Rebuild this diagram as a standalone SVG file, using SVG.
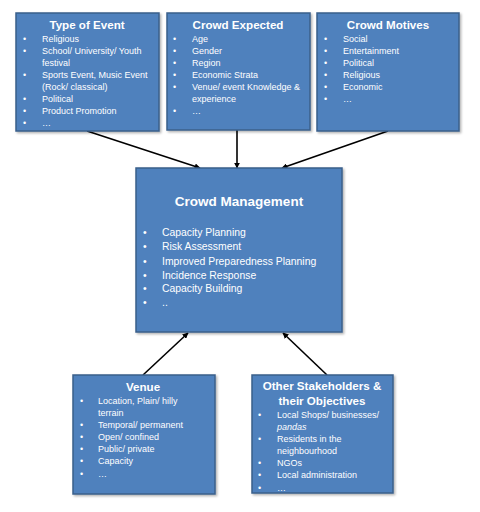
<svg xmlns="http://www.w3.org/2000/svg" width="480" height="512" viewBox="0 0 480 512">
<defs>
<marker id="ah" viewBox="0 0 10 10" refX="9" refY="5" markerWidth="6" markerHeight="6" orient="auto" markerUnits="userSpaceOnUse">
<path d="M0,0 L10,5 L0,10 z" fill="#000"/>
</marker>
<filter id="sh" x="-5%" y="-5%" width="115%" height="115%">
<feDropShadow dx="1.5" dy="1.5" stdDeviation="1" flood-color="#000" flood-opacity="0.3"/>
</filter>
</defs>
<style>
.box{fill:#4F81BD;stroke:#3A5F8B;stroke-width:1.5;filter:url(#sh)}
text{font-family:"Liberation Sans",Arial,sans-serif;fill:#fff}
.t{font-weight:bold;font-size:11.6px;text-anchor:middle}
.tb{font-weight:bold;font-size:13.5px;text-anchor:middle}
.s{font-size:9px}
.m{font-size:10.4px}
.c{stroke:#000;stroke-width:1.6;fill:none;marker-end:url(#ah)}
</style>
<rect width="480" height="512" fill="#fff"/>
<g id="connectors">
<line class="c" x1="87" y1="131" x2="200" y2="168"/>
<line class="c" x1="237" y1="130" x2="237" y2="168"/>
<line class="c" x1="388" y1="131" x2="282" y2="168"/>
<line class="c" x1="143" y1="375" x2="188" y2="333"/>
<line class="c" x1="327" y1="375" x2="283" y2="333"/>
</g>
<g id="type-of-event">
<rect class="box" x="16" y="13" width="143" height="118"/>
<text class="t" x="87" y="29">Type of Event</text>
<g class="s">
<text x="23" y="42">•</text><text x="42" y="42">Religious</text>
<text x="23" y="54">•</text><text x="42" y="54">School/ University/ Youth</text>
<text x="42" y="65.5">festival</text>
<text x="23" y="77.5">•</text><text x="42" y="77.5">Sports Event, Music Event</text>
<text x="42" y="89.5">(Rock/ classical)</text>
<text x="23" y="101.5">•</text><text x="42" y="101.5">Political</text>
<text x="23" y="113.5">•</text><text x="42" y="113.5">Product Promotion</text>
<text x="23" y="126">•</text><text x="42" y="126">…</text>
</g>
</g>
<g id="crowd-expected">
<rect class="box" x="167" y="13" width="143" height="117"/>
<text class="t" x="238" y="29">Crowd Expected</text>
<g class="s">
<text x="173" y="42">•</text><text x="192" y="42">Age</text>
<text x="173" y="54">•</text><text x="192" y="54">Gender</text>
<text x="173" y="66">•</text><text x="192" y="66">Region</text>
<text x="173" y="77.5">•</text><text x="192" y="77.5">Economic Strata</text>
<text x="173" y="89.5">•</text><text x="192" y="89.5">Venue/ event Knowledge &amp;</text>
<text x="192" y="101.5">experience</text>
<text x="173" y="114">•</text><text x="192" y="114">…</text>
</g>
</g>
<g id="crowd-motives">
<rect class="box" x="317" y="13" width="142" height="118"/>
<text class="t" x="388" y="29">Crowd Motives</text>
<g class="s">
<text x="324" y="42">•</text><text x="343" y="42">Social</text>
<text x="324" y="54">•</text><text x="343" y="54">Entertainment</text>
<text x="324" y="66">•</text><text x="343" y="66">Political</text>
<text x="324" y="77.5">•</text><text x="343" y="77.5">Religious</text>
<text x="324" y="89.5">•</text><text x="343" y="89.5">Economic</text>
<text x="324" y="102">•</text><text x="343" y="102">…</text>
</g>
</g>
<g id="crowd-management">
<rect class="box" x="136" y="168" width="206" height="164"/>
<text class="tb" x="239" y="205.5">Crowd Management</text>
<g class="m">
<text x="143" y="236">•</text><text x="162" y="236">Capacity Planning</text>
<text x="143" y="250">•</text><text x="162" y="250">Risk Assessment</text>
<text x="143" y="264.5">•</text><text x="162" y="264.5">Improved Preparedness Planning</text>
<text x="143" y="278.5">•</text><text x="162" y="278.5">Incidence Response</text>
<text x="143" y="292">•</text><text x="162" y="292">Capacity Building</text>
<text x="143" y="306">•</text><text x="162" y="306">..</text>
</g>
</g>
<g id="venue">
<rect class="box" x="73" y="375" width="142" height="119"/>
<text class="t" x="143" y="391">Venue</text>
<g class="s">
<text x="80" y="404">•</text><text x="98" y="404">Location, Plain/ hilly</text>
<text x="98" y="416">terrain</text>
<text x="80" y="428">•</text><text x="98" y="428">Temporal/ permanent</text>
<text x="80" y="440">•</text><text x="98" y="440">Open/ confined</text>
<text x="80" y="452">•</text><text x="98" y="452">Public/ private</text>
<text x="80" y="464">•</text><text x="98" y="464">Capacity</text>
<text x="80" y="476.5">•</text><text x="98" y="476.5">…</text>
</g>
</g>
<g id="other-stakeholders">
<rect class="box" x="252" y="375" width="141" height="118"/>
<text class="t" x="322" y="390">Other Stakeholders &amp;</text>
<text class="t" x="322" y="405">their Objectives</text>
<g class="s">
<text x="258" y="418">•</text><text x="277" y="418">Local Shops/ businesses/</text>
<text x="277" y="430" font-style="italic">pandas</text>
<text x="258" y="442">•</text><text x="277" y="442">Residents in the</text>
<text x="277" y="454">neighbourhood</text>
<text x="258" y="466">•</text><text x="277" y="466">NGOs</text>
<text x="258" y="478">•</text><text x="277" y="478">Local administration</text>
<text x="258" y="490.5">•</text><text x="277" y="490.5">…</text>
</g>
</g>
</svg>
